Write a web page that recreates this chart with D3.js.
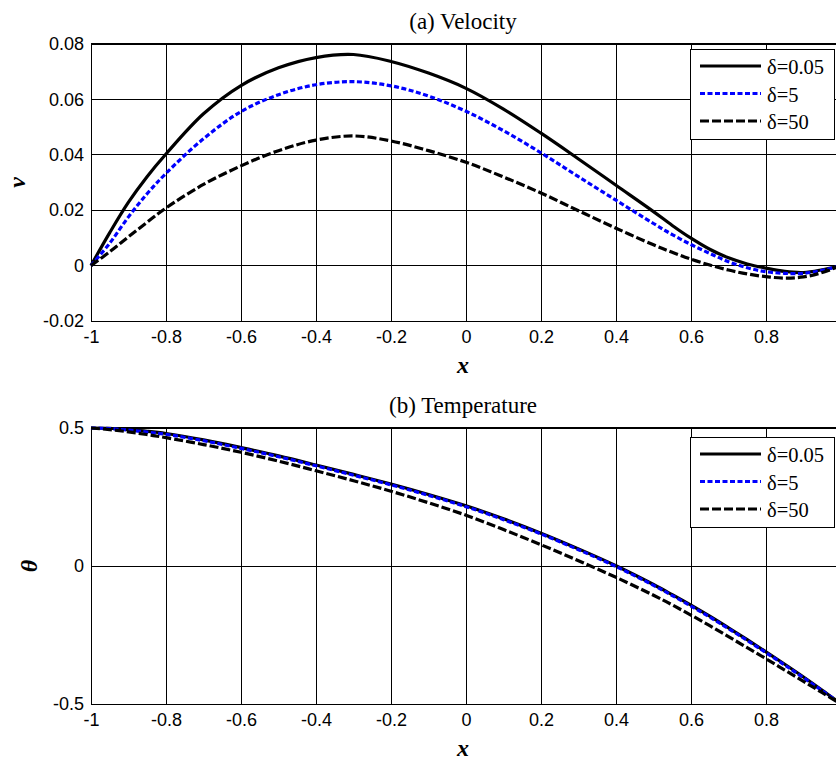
<!DOCTYPE html>
<html>
<head>
<meta charset="utf-8">
<script src="https://cdn.jsdelivr.net/npm/d3@7"></script>
<style>
  body { margin: 0; background: #fff; }
  svg { display: block; }
</style>
</head>
<body>
<div id="chart"></div>
<script>
// sample positions along x
const xs = [-1, -0.95, -0.9, -0.85, -0.8, -0.7, -0.6, -0.5, -0.4, -0.3, -0.2, -0.1,
            0, 0.1, 0.2, 0.3, 0.4, 0.5, 0.55, 0.6, 0.65, 0.7, 0.75, 0.8, 0.85, 0.9, 0.95, 1];

// (a) velocity v
const vD005 = [0, 0.0119, 0.0229, 0.0322, 0.0403, 0.0548, 0.065, 0.0714, 0.0751, 0.0762, 0.0737, 0.0695,
               0.064, 0.0565, 0.0478, 0.0385, 0.029, 0.0195, 0.0145, 0.0099, 0.0059, 0.0028, 0.0006, -0.0009,
               -0.0021, -0.0025, -0.0015, 0];
const vD5   = [0, 0.0081, 0.0176, 0.026, 0.0333, 0.0458, 0.0556, 0.0617, 0.0653, 0.0664, 0.0649, 0.0612,
               0.0557, 0.0487, 0.0407, 0.0321, 0.0236, 0.0152, 0.0112, 0.0076, 0.0044, 0.0014, -0.0008, -0.0022,
               -0.0028, -0.0028, -0.0017, 0];
const vD50  = [0, 0.005, 0.0104, 0.0157, 0.0208, 0.0293, 0.036, 0.0415, 0.0453, 0.0468, 0.045, 0.0415,
               0.0373, 0.032, 0.0262, 0.0198, 0.0135, 0.0075, 0.0048, 0.0023, 0.0002, -0.0016, -0.003, -0.004,
               -0.0045, -0.0041, -0.0025, 0];

// (b) temperature theta
const tD005 = [0.5, 0.499, 0.494, 0.488, 0.48, 0.457, 0.429, 0.399, 0.366, 0.332, 0.297, 0.259,
               0.218, 0.171, 0.119, 0.062, 0.001, -0.067, -0.104, -0.142, -0.182, -0.224, -0.267, -0.311,
               -0.356, -0.402, -0.45, -0.5];
const tD5   = [0.5, 0.498, 0.492, 0.485, 0.477, 0.454, 0.426, 0.396, 0.363, 0.329, 0.294, 0.256,
               0.215, 0.168, 0.116, 0.059, -0.002, -0.07, -0.107, -0.145, -0.185, -0.227, -0.27, -0.314,
               -0.359, -0.405, -0.452, -0.5];
const tD50  = [0.5, 0.494, 0.486, 0.476, 0.465, 0.44, 0.412, 0.38, 0.345, 0.309, 0.271, 0.229,
               0.184, 0.132, 0.077, 0.019, -0.041, -0.106, -0.141, -0.178, -0.216, -0.256, -0.296, -0.336,
               -0.377, -0.418, -0.459, -0.5];

const seriesNames = ["δ=0.05", "δ=5", "δ=50"];
const xTicks = [-1, -0.8, -0.6, -0.4, -0.2, 0, 0.2, 0.4, 0.6, 0.8];
const vTicks = [-0.02, 0, 0.02, 0.04, 0.06, 0.08];
const tTicks = [-0.5, 0, 0.5];

const width = 836, height = 762;
const serif = "'Liberation Serif', 'Times New Roman', serif";
const styles = [
  { stroke: "#000", dash: null },
  { stroke: "#0000ff", dash: "5,2.5" },
  { stroke: "#000", dash: "9,3" }
];

const svg = d3.select("#chart").append("svg")
  .attr("width", width).attr("height", height);
svg.append("rect").attr("width", width).attr("height", height).attr("fill", "#fff");

const fmt = d => d === 0 ? "0" : String(+d.toFixed(2));

// one panel
let drawPanel = (opt) => {
  const x = d3.scaleLinear().domain([-1, 1]).range([91, 841]);
  const y = d3.scaleLinear().domain(opt.yDomain).range([opt.bottom, opt.top]);
  const g = svg.append("g");

  //grid
  const grid = g.append("g").attr("shape-rendering", "crispEdges");
  grid.selectAll(".vgrid").data(xTicks).enter().append("line")
    .attr("x1", d => x(d)).attr("x2", d => x(d))
    .attr("y1", opt.top).attr("y2", opt.bottom)
    .attr("stroke", "#000").attr("stroke-width", 1);
  grid.selectAll(".hgrid").data(opt.ticks).enter().append("line")
    .attr("x1", x(-1)).attr("x2", x(1))
    .attr("y1", d => y(d)).attr("y2", d => y(d))
    .attr("stroke", "#000").attr("stroke-width", 1);
  grid.append("line").attr("x1", 91).attr("x2", 841).attr("y1", opt.top).attr("y2", opt.top)
    .attr("stroke", "#000").attr("stroke-width", 1.5);

  //axes (labels only)
  const xAxis = d3.axisBottom(x).tickValues(xTicks).tickSize(0).tickPadding(9).tickFormat(fmt);
  const xg = g.append("g").attr("transform", "translate(0," + opt.bottom + ")").call(xAxis);
  const yAxis = d3.axisLeft(y).tickValues(opt.ticks).tickSize(0).tickPadding(7).tickFormat(fmt);
  const yg = g.append("g").attr("transform", "translate(91,0)").call(yAxis);
  [xg, yg].forEach(a => {
    a.select(".domain").attr("stroke", "#000").attr("stroke-width", 1.5)
      .attr("shape-rendering", "crispEdges");
    a.selectAll("text").style("font-family", "'Liberation Sans', Arial, sans-serif")
      .style("font-size", "18px").attr("fill", "#000");
  });

  //curves
  const line = d3.line().x((d, i) => x(xs[i])).y(d => y(d)).curve(d3.curveCatmullRom);
  opt.series.forEach((s, i) => {
    g.append("path").datum(s)
      .attr("d", line)
      .attr("fill", "none")
      .attr("stroke", styles[i].stroke)
      .attr("stroke-width", 3.2)
      .attr("stroke-dasharray", styles[i].dash);
  });

  //titles
  g.append("text").attr("x", 463).attr("y", opt.top - 15)
    .attr("text-anchor", "middle")
    .style("font-family", serif)
    .style("font-size", "23px").text(opt.title);
  g.append("text").attr("x", 463).attr("y", opt.bottom + 52)
    .attr("text-anchor", "middle")
    .style("font-family", serif)
    .style("font-size", "24px").style("font-weight", "bold").style("font-style", "italic")
    .text("x");
  g.append("text")
    .attr("transform", "translate(" + opt.yLabelX + "," + (opt.top + opt.bottom) / 2 + ") rotate(-90)")
    .attr("text-anchor", "middle")
    .style("font-family", serif)
    .style("font-size", "24px").style("font-weight", "bold").style("font-style", "italic")
    .text(opt.yLabel);

  //legend
  const lg = g.append("g").attr("transform", "translate(690," + opt.legendTop + ")");
  lg.append("rect").attr("x", 0.5).attr("y", 0.5).attr("width", 144).attr("height", 90)
    .attr("fill", "#fff").attr("stroke", "#000").attr("stroke-width", 1);
  seriesNames.forEach((name, i) => {
    const ly = 17 + i * 27.5;
    lg.append("line").attr("x1", 10).attr("x2", 71).attr("y1", ly).attr("y2", ly)
      .attr("stroke", styles[i].stroke).attr("stroke-width", 3.2)
      .attr("stroke-dasharray", styles[i].dash);
    lg.append("text").attr("x", 77).attr("y", ly + 8)
      .style("font-family", serif)
      .style("font-size", "20.5px").text(name);
  });
};

drawPanel({ yDomain: [-0.02, 0.08], top: 44, bottom: 321, ticks: vTicks,
            series: [vD005, vD5, vD50], title: "(a) Velocity", yLabel: "v",
            yLabelX: 25, legendTop: 49 });
drawPanel({ yDomain: [-0.5, 0.5], top: 428, bottom: 704, ticks: tTicks,
            series: [tD005, tD5, tD50], title: "(b) Temperature", yLabel: "θ",
            yLabelX: 37, legendTop: 437 });
</script>
</body>
</html>
